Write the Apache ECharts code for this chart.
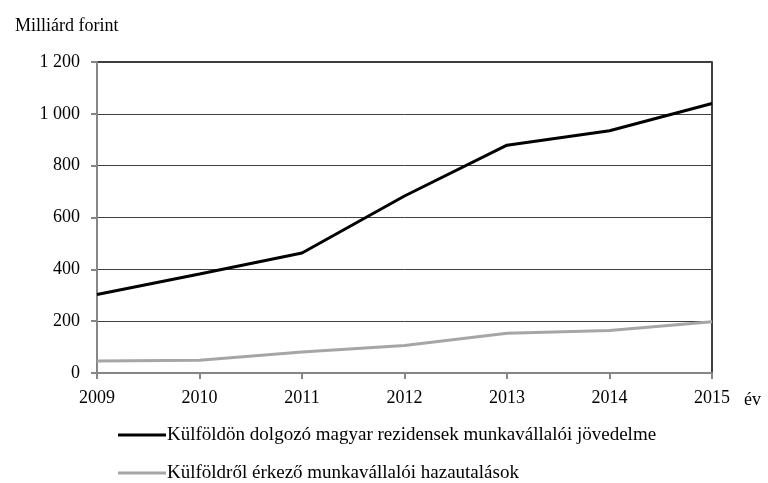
<!DOCTYPE html>
<html><head><meta charset="utf-8">
<script src="https://cdn.jsdelivr.net/npm/echarts@6/dist/echarts.min.js"></script>
<style>html,body{margin:0;padding:0;background:#fff}#c{width:768px;height:483px}</style>
</head><body><div id="c"></div>
<script>
const years = ['2009','2010','2011','2012','2013','2014','2015'];
const incomeName = 'Külföldön dolgozó magyar rezidensek munkavállalói jövedelme';
const incomeValues = [303, 382, 463, 683, 879, 935, 1040];
const remitName = 'Külföldről érkező munkavállalói hazautalások';
const remitValues = [46, 49, 81, 106, 153, 164, 198];
const yTicks = [0, 200, 400, 600, 800, 1000, 1200];

const font = '"Liberation Serif", "Times New Roman", serif';
const legendBase = {
  orient: 'vertical', left: 118, padding: 0, itemWidth: 48, itemHeight: 3, icon: 'rect',
  textStyle: {fontFamily: font, fontSize: 19, color: '#000', lineHeight: 20, padding: [0,0,0,-4]}
};
const chart = echarts.init(document.getElementById('c'));
chart.setOption({
  animation: false,
  textStyle: {fontFamily: font},
  grid: {left: 97, right: 56, top: 62, bottom: 110, show: true, borderColor: '#000', borderWidth: 1.5},
  title: {text: 'Milliárd forint', left: 10, top: 12, textStyle: {fontFamily: font, fontSize: 18, fontWeight: 'normal', color: '#000'}},
  legend: [
    Object.assign({}, legendBase, {top: 425, data: [incomeName]}),
    Object.assign({}, legendBase, {top: 463, data: [remitName]})
  ],
  xAxis: {
    type: 'category', data: years, boundaryGap: false,
    name: 'év', nameLocation: 'end', nameGap: 32,
    nameTextStyle: {fontFamily: font, fontSize: 18, color: '#000', verticalAlign: 'top', padding: [18,0,0,0]},
    axisLine: {lineStyle: {color: '#868686', width: 2}},
    axisTick: {show: true, length: 6, lineStyle: {color: '#868686', width: 2}},
    axisLabel: {fontFamily: font, fontSize: 18, color: '#000', margin: 16},
    splitLine: {show: false}
  },
  yAxis: {
    type: 'value', min: 0, max: 1200, interval: 200,
    axisLine: {show: true, lineStyle: {color: '#868686', width: 2}},
    axisTick: {show: true, length: 6, lineStyle: {color: '#868686', width: 2}},
    axisLabel: {fontFamily: font, fontSize: 18, color: '#000', margin: 17,
      formatter: v => yTicks.includes(v) ? String(v).replace(/\B(?=(\d{3})+(?!\d))/g, ' ') : ''},
    splitLine: {show: true, lineStyle: {color: '#404040', width: 1}}
  },
  series: [
    {name: incomeName, type: 'line', data: incomeValues, showSymbol: false, symbol: 'none',
     lineStyle: {color: '#000', width: 3}, itemStyle: {color: '#000'}, z: 3},
    {name: remitName, type: 'line', data: remitValues, showSymbol: false, symbol: 'none',
     lineStyle: {color: '#a6a6a6', width: 3}, itemStyle: {color: '#a6a6a6'}, z: 2}
  ]
});
</script></body></html>
